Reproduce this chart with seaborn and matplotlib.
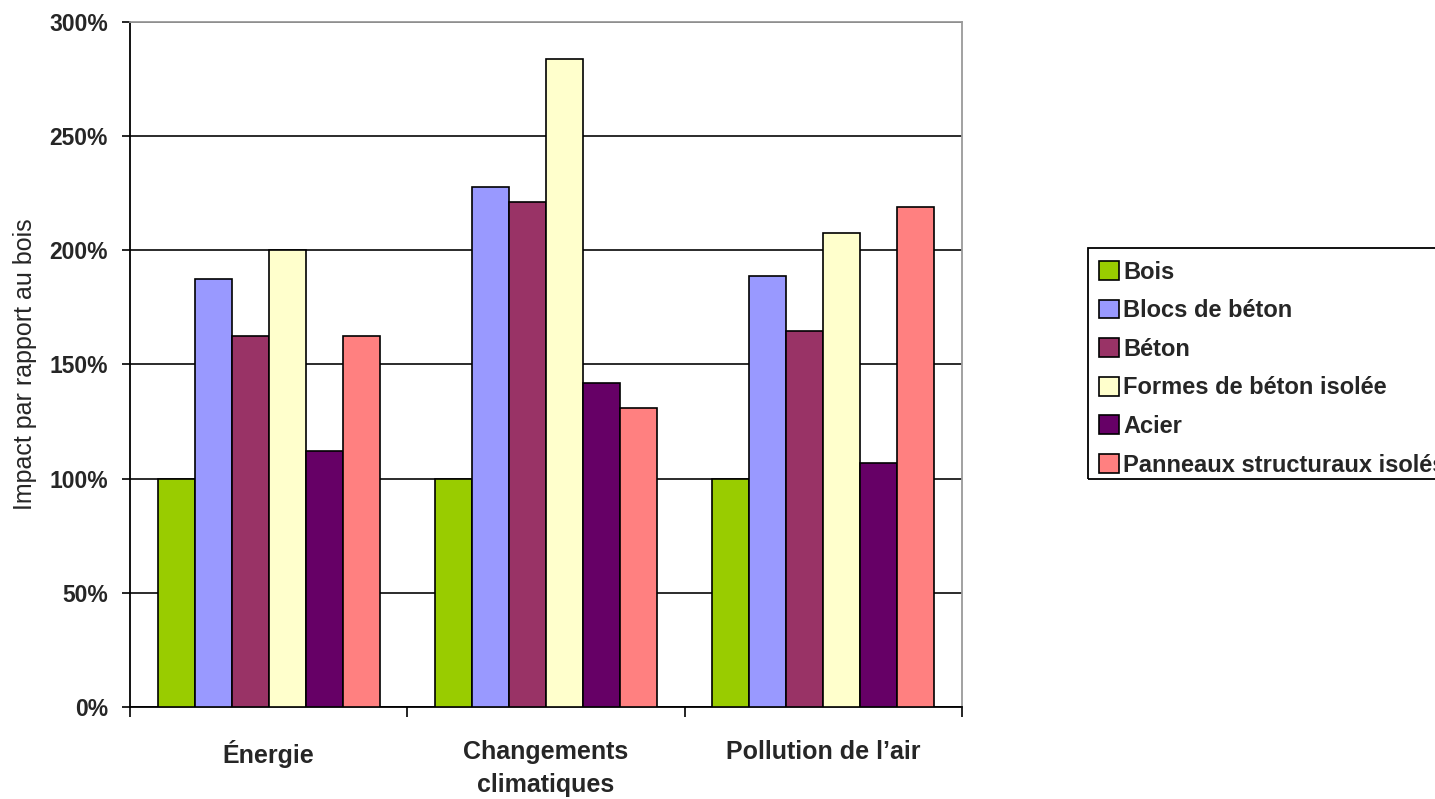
import matplotlib
matplotlib.use("Agg")
import matplotlib.pyplot as plt
import seaborn as sns
import pandas as pd
from matplotlib.patches import Rectangle
from matplotlib.ticker import FixedLocator, FuncFormatter

# Impact categories (x axis) and building systems (series)
categories = ["Énergie", "Changements\nclimatiques", "Pollution de l’air"]
materials = ["Bois", "Blocs de béton", "Béton", "Formes de béton isolée",
             "Acier", "Panneaux structuraux isolés"]

# Impact relative to wood, in percent, one list per material
bois = [100, 100, 100]
blocs_beton = [187.5, 227.6, 188.9]
beton = [162.6, 221.0, 164.8]
formes_beton = [200.0, 283.7, 207.6]
acier = [112.3, 141.8, 106.7]
panneaux = [162.6, 130.9, 219.1]

colors = ["#99CC00", "#9999FF", "#993366", "#FFFFCC", "#660066", "#FF8080"]

series = [bois, blocs_beton, beton, formes_beton, acier, panneaux]
rows = []
for mat, vals in zip(materials, series):
    for cat, v in zip(categories, vals):
        rows.append({"categorie": cat, "materiau": mat, "impact": v})
df = pd.DataFrame(rows)

sns.set_style("white")
plt.rcParams["font.family"] = ["Liberation Sans", "DejaVu Sans"]

W, H = 1435, 799
fig = plt.figure(figsize=(W / 100, H / 100), dpi=100)
ax = fig.add_axes([130 / W, 1 - 707 / H, 832 / W, 685 / H])

sns.barplot(data=df, x="categorie", y="impact", hue="materiau",
            order=categories, hue_order=materials, palette=colors,
            edgecolor="black", linewidth=1.2, width=0.8, gap=0,
            saturation=1, errorbar=None, ax=ax, zorder=3)

ax.set_ylim(0, 300)
ax.set_xlim(-0.5, 2.5)

# Horizontal gridlines behind the bars
ax.yaxis.set_major_locator(FixedLocator([0, 50, 100, 150, 200, 250, 300]))
ax.yaxis.set_major_formatter(FuncFormatter(lambda v, _: f"{v:.0f}%"))
ax.grid(axis="y", color="#1a1a1a", linewidth=1.3, zorder=0)
ax.set_axisbelow(True)

# Category separators as minor ticks on the x axis
ax.xaxis.set_minor_locator(FixedLocator([-0.5, 0.5, 1.5, 2.5]))
ax.tick_params(axis="x", which="major", length=0, pad=24, labelsize=18)
ax.tick_params(axis="x", which="minor", length=7, width=1.2, color="black",
               direction="out", bottom=True)
ax.tick_params(axis="y", which="major", length=6, width=1.2, color="black",
               direction="out", left=True, pad=10, labelsize=16.5)
for lab in ax.get_xticklabels() + ax.get_yticklabels():
    lab.set_fontweight("bold")
    lab.set_linespacing(1.45)

for side in ("left", "bottom"):
    ax.spines[side].set_color("black")
    ax.spines[side].set_linewidth(1.3)
for side in ("top", "right"):
    ax.spines[side].set_color("#9a9a9a")
    ax.spines[side].set_linewidth(1.3)

ax.set_xlabel("")
ax.set_ylabel("Impact par rapport au bois", fontsize=18)
ax.yaxis.set_label_coords(-0.112, 0.5)

handles, labels = ax.get_legend_handles_labels()
ax.get_legend().remove()
leg = fig.legend(handles, labels, loc="upper left",
                 bbox_to_anchor=(1088 / W, 1 - 250 / H),
                 borderaxespad=0, frameon=False,
                 prop={"size": 17, "weight": "bold"},
                 handlelength=0.85, handleheight=0.85, handletextpad=0.2,
                 labelspacing=0.66, borderpad=0.45)
for h in leg.legend_handles:
    h.set_edgecolor("black")
    h.set_linewidth(1.2)

# Legend box, running off the right edge of the figure
fig.patches.append(Rectangle((1088 / W, 1 - 479 / H), 400 / W, 231 / H,
                             transform=fig.transFigure, fill=False,
                             edgecolor="black", linewidth=1.3))

fig.savefig("out.png", dpi=100)
